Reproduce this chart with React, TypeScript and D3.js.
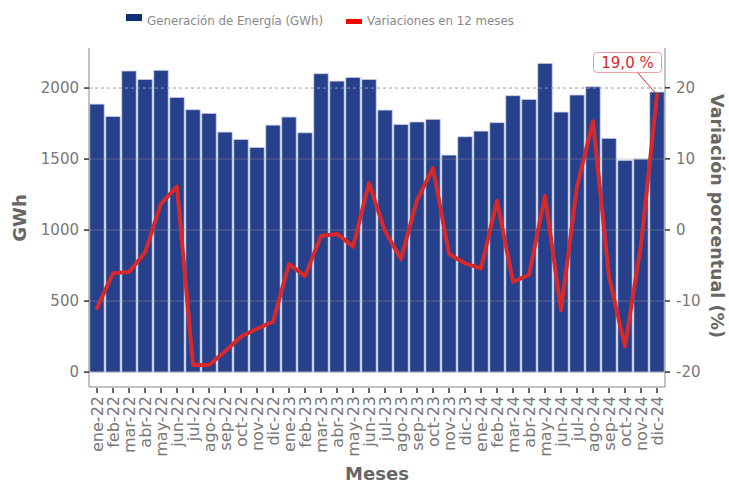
import React from 'react';
import * as d3 from 'd3';

const months = [
  'ene-22', 'feb-22', 'mar-22', 'abr-22', 'may-22', 'jun-22', 'jul-22', 'ago-22', 'sep-22', 'oct-22', 'nov-22', 'dic-22',
  'ene-23', 'feb-23', 'mar-23', 'abr-23', 'may-23', 'jun-23', 'jul-23', 'ago-23', 'sep-23', 'oct-23', 'nov-23', 'dic-23',
  'ene-24', 'feb-24', 'mar-24', 'abr-24', 'may-24', 'jun-24', 'jul-24', 'ago-24', 'sep-24', 'oct-24', 'nov-24', 'dic-24',
];

// generación mensual (GWh)
const generacion = [
  1887, 1800, 2120, 2061, 2125, 1934, 1847, 1822, 1690, 1638, 1582, 1739,
  1796, 1685, 2101, 2049, 2075, 2061, 1845, 1744, 1761, 1780, 1528, 1657,
  1697, 1756, 1946, 1920, 2174, 1831, 1951, 2009, 1646, 1491, 1500, 1972,
];

// variación en 12 meses (%)
const variacion = [
  -11.0, -6.1, -5.9, -3.2, 3.7, 6.1, -19.0, -19.0, -17.1, -15.0, -13.9, -12.9,
  -4.8, -6.5, -0.85, -0.56, -2.35, 6.6, -0.2, -4.1, 4.2, 8.7, -3.4, -4.7,
  -5.4, 4.1, -7.3, -6.3, 4.8, -11.3, 6.1, 15.3, -6.6, -16.4, -2.1, 19.0,
];

const leftTicks = [0, 500, 1000, 1500, 2000];
const rightTicks = [-20, -10, 0, 10, 20];

const W = 729;
const H = 483;
const plot = { left: 89, right: 665, top: 48, bottom: 387 };

const BAR = '#26408b';
const LINE = '#d7282c';
const FONT = 'DejaVu Sans, sans-serif';

export default function App() {
  const x = d3.scaleBand<string>()
    .domain(months)
    .range([plot.left, plot.right])
    .paddingInner(0.1)
    .paddingOuter(0.05);

  const yL = d3.scaleLinear().domain([-105, 2282]).range([plot.bottom, plot.top]);
  const yR = d3.scaleLinear().domain([-22.1, 25.6]).range([plot.bottom, plot.top]);

  const cx = (m: string) => (x(m) as number) + x.bandwidth() / 2;

  const line = d3.line<number>()
    .x((_, i) => cx(months[i]))
    .y(d => yR(d));

  const lastM = months[months.length - 1];
  const px = cx(lastM);
  const py = yR(variacion[variacion.length - 1]);
  const lastLabel = variacion[variacion.length - 1].toFixed(1).replace('.', ',') + ' %';

  return (
    <svg width={W} height={H} style={{ position: 'absolute', left: 0, top: 0, background: '#fff' }} fontFamily={FONT}>
      {/* legend */}
      <rect x={126} y={14} width={16} height={7} fill="#0a3274" />
      <text x={147} y={25} fontSize={11.8} fill="#888">Generación de Energía (GWh)</text>
      <rect x={346} y={19} width={16} height={5} fill="#ff0000" />
      <text x={367} y={25} fontSize={11.8} fill="#888">Variaciones en 12 meses</text>

      {/* bars */}
      {months.map((m, i) => (
        <rect key={m} x={x(m)} y={yL(generacion[i])} width={x.bandwidth()}
          height={yL(0) - yL(generacion[i])} fill={BAR} stroke="#c9cde6" strokeWidth={0.8} />
      ))}

      {/* grid over bars */}
      {leftTicks.filter(t => t !== 2000).map(t => (
        <line key={t} x1={plot.left} x2={plot.right} y1={yL(t)} y2={yL(t)} stroke="#999" strokeOpacity={0.45} strokeWidth={1} />
      ))}
      <line x1={plot.left} x2={plot.right} y1={yL(2000)} y2={yL(2000)} stroke="#999" strokeWidth={1} strokeDasharray="3,3" />

      {/* line */}
      <path d={line(variacion) || ''} fill="none" stroke={LINE} strokeWidth={4} strokeLinejoin="round" strokeLinecap="round" />

      {/* last value label */}
      <line x1={px - 20} y1={py - 23} x2={px} y2={py} stroke={LINE} strokeWidth={1} />
      <rect x={px - 63.5} y={py - 42.5} width={68} height={20} rx={3} fill="#fff" stroke="#eb9a9c" strokeWidth={1} />
      <text x={px - 29.5} y={py - 27} fontSize={15} fill={LINE} textAnchor="middle">{lastLabel}</text>

      {/* axes lines */}
      <line x1={plot.left} x2={plot.left} y1={plot.top} y2={plot.bottom} stroke="#888" />
      <line x1={plot.right} x2={plot.right} y1={plot.top} y2={plot.bottom} stroke="#888" />
      <line x1={plot.left} x2={plot.right} y1={plot.bottom} y2={plot.bottom} stroke="#888" />

      {/* left axis */}
      {leftTicks.map(t => (
        <g key={t} transform={`translate(${plot.left},${yL(t)})`}>
          <line x1={-5} x2={0} stroke="#333" strokeWidth={1.5} />
          <text x={-10} dy="0.35em" fontSize={15} fill="#777" textAnchor="end">{t}</text>
        </g>
      ))}

      {/* right axis */}
      {rightTicks.map(t => (
        <g key={t} transform={`translate(${plot.right},${yR(t)})`}>
          <line x1={0} x2={5} stroke="#333" strokeWidth={1.5} />
          <text x={11} dy="0.35em" fontSize={15} fill="#777">{t}</text>
        </g>
      ))}

      {/* bottom axis */}
      {months.map(m => (
        <g key={m} transform={`translate(${cx(m)},${plot.bottom})`}>
          <line y1={1} y2={6} stroke="#333" strokeWidth={1.5} />
          <text transform="translate(0,9) rotate(-90)" dy="0.35em" fontSize={16} fill="#777" textAnchor="end">{m}</text>
        </g>
      ))}

      {/* titles */}
      <text transform="translate(26,218) rotate(-90)" fontSize={18} fontWeight="bold" fill="#666" textAnchor="middle">GWh</text>
      <text transform="translate(711,216) rotate(90)" fontSize={17.5} fontWeight="bold" fill="#666" textAnchor="middle">Variación porcentual (%)</text>
      <text x={(plot.left + plot.right) / 2} y={480} fontSize={18} fontWeight="bold" fill="#666" textAnchor="middle">Meses</text>
    </svg>
  );
}
